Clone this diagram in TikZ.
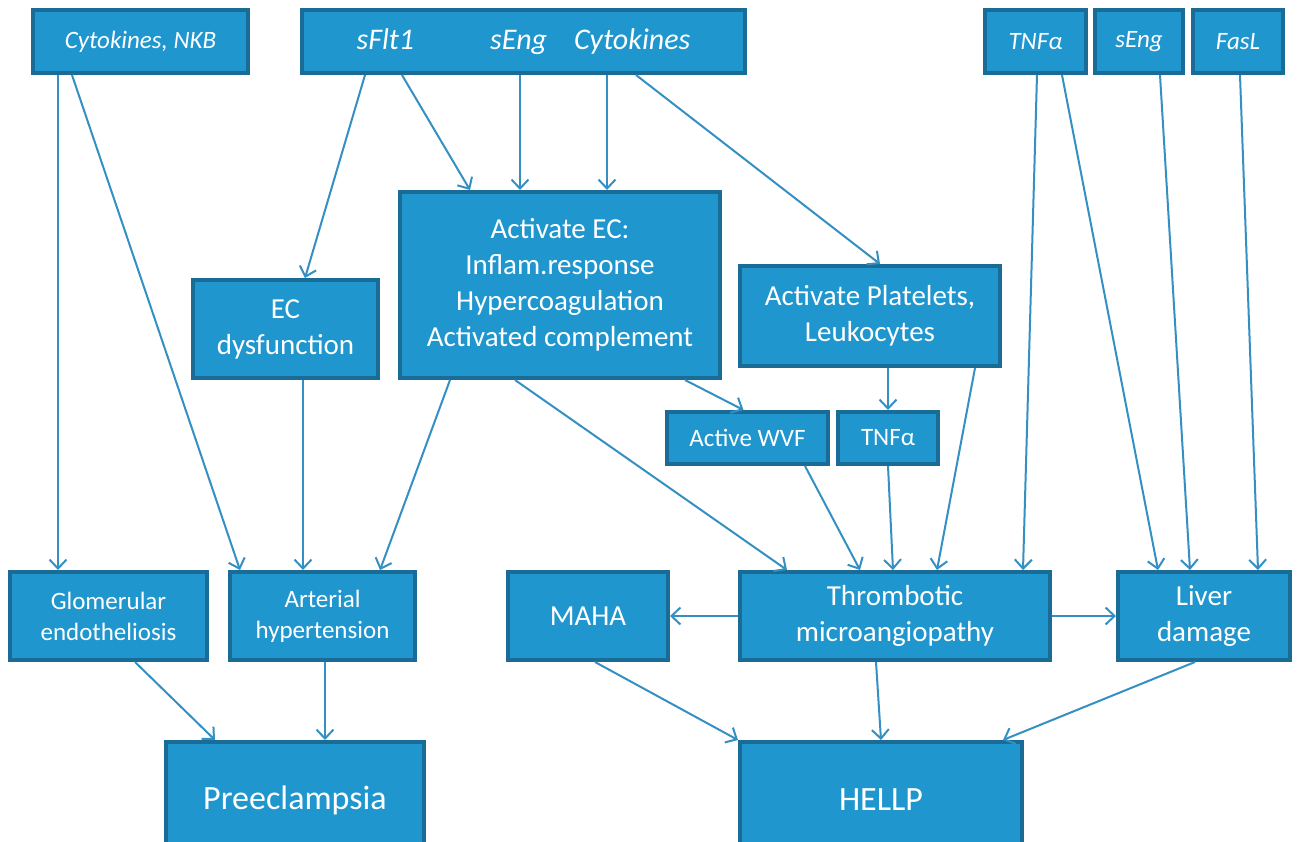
\documentclass[tikz,border=0pt]{standalone}
\usepackage{fontspec}
\setmainfont{Carlito}
\usepackage{tikz}
\usetikzlibrary{arrows.meta,positioning}
\definecolor{boxfill}{RGB}{31,150,206}
\definecolor{boxline}{RGB}{26,108,150}
\definecolor{arrowblue}{RGB}{52,143,195}

\begin{document}
\begin{tikzpicture}[x=1pt, y=-1pt, on grid,
    >={Straight Barb[length=9pt, width=17pt, line width=2pt]},
    box/.style={draw=boxline, fill=boxfill, line width=4pt, text=white,
      align=center, inner sep=0pt},
    bigtext/.style={font=\fontsize{29}{36}\selectfont},
    midtext/.style={font=\fontsize{25}{31}\selectfont},
    toptext/.style={font=\fontsize{25}{30}\selectfont\itshape},
    srctext/.style={font=\fontsize{30}{36}\selectfont\itshape},
    endtext/.style={font=\fontsize{34}{40}\selectfont},
    link/.style={->, draw=arrowblue, line width=2pt}]

  \useasboundingbox (0,0) rectangle (1307,841);

  % Boxes
  \node[box, toptext, minimum width=215pt, minimum height=63pt] (Cyto) at (140.5,41.5) {Cytokines, NKB};
  \node[box, srctext, minimum width=443pt, minimum height=63pt] (Src) at (523.5,41.5)
    {sFlt1\hspace{76pt}sEng\hspace{27pt}Cytokines};
  \node[box, toptext, minimum width=101pt, minimum height=63pt] (TnfTop) at (1035.5,41.5) {TNFα};
  \node[box, toptext, minimum width=88pt, minimum height=63pt] (SengTop) [right=103.5pt of TnfTop] {sEng};
  \node[box, toptext, minimum width=90pt, minimum height=63pt] (FasL) [right=99pt of SengTop] {FasL};

  \node[box, bigtext, minimum width=320pt, minimum height=186pt] (ActEC) at (560,285)
    {Activate EC:\\Inflam.response\\Hypercoagulation\\Activated complement};
  \node[box, bigtext, minimum width=185pt, minimum height=98pt] (ECdys) at (285.5,329) {EC\\dysfunction};
  \node[box, bigtext, minimum width=260pt, minimum height=100pt] (Plat) at (870,316)
    {Activate Platelets,\\Leukocytes};
  \node[box, midtext, minimum width=161pt, minimum height=52pt] (Wvf) at (747.5,438) {Active WVF};
  \node[box, midtext, minimum width=100pt, minimum height=52pt] (TnfMid) [right=140.5pt of Wvf] {TNFα};

  \node[box, midtext, minimum width=197pt, minimum height=88pt] (Glom) at (108.5,616) {Glomerular\\endotheliosis};
  \node[box, midtext, minimum width=185pt, minimum height=88pt] (Arter) at (322.5,616) {Arterial\\hypertension};
  \node[box, bigtext, minimum width=160pt, minimum height=88pt] (Maha) at (588,616) {MAHA};
  \node[box, bigtext, minimum width=310pt, minimum height=88pt] (Tma) at (895,616) {Thrombotic\\microangiopathy};
  \node[box, bigtext, minimum width=172pt, minimum height=88pt] (Liver) at (1204,616) {Liver\\damage};

  \node[box, endtext, minimum width=258pt, minimum height=116pt] (Pre) at (295,800) {Preeclampsia};
  \node[box, endtext, minimum width=282pt, minimum height=116pt] (Hellp) at (881,800) {HELLP};

  % Arrows
  \path[every edge/.style=link]
    ([xshift=-82.5pt]Cyto.south) edge ([xshift=-50.5pt]Glom.north)
    ([xshift=-68.5pt]Cyto.south) edge ([xshift=-82.5pt]Arter.north)

    ([xshift=-158.5pt]Src.south) edge ([xshift=19.5pt]ECdys.north)
    ([xshift=-121.5pt]Src.south) edge ([xshift=-90pt]ActEC.north)
    ([xshift=-3.5pt]Src.south) edge ([xshift=-40pt]ActEC.north)
    ([xshift=83.5pt]Src.south) edge ([xshift=47pt]ActEC.north)
    ([xshift=112.5pt]Src.south) edge ([xshift=10pt]Plat.north)

    ([xshift=17.5pt]ECdys.south) edge ([xshift=-19.5pt]Arter.north)
    ([xshift=-110pt]ActEC.south) edge ([xshift=57.5pt]Arter.north)
    ([xshift=-45pt]ActEC.south) edge ([xshift=-108pt]Tma.north)
    ([xshift=125pt]ActEC.south) edge ([xshift=-4pt]Wvf.north)

    ([xshift=18pt]Plat.south) edge (TnfMid.north)
    ([xshift=105pt]Plat.south) edge ([xshift=42pt]Tma.north)
    ([xshift=57.5pt]Wvf.south) edge ([xshift=-35pt]Tma.north)
    (TnfMid.south) edge ([xshift=-2pt]Tma.north)

    ([xshift=1.5pt]TnfTop.south) edge ([xshift=128pt]Tma.north)
    ([xshift=26.5pt]TnfTop.south) edge ([xshift=-46pt]Liver.north)
    ([xshift=21pt]SengTop.south) edge ([xshift=-14pt]Liver.north)
    ([xshift=2pt]FasL.south) edge ([xshift=54pt]Liver.north)

    (Tma.west) edge (Maha.east)
    (Tma.east) edge (Liver.west)

    ([xshift=26.5pt]Glom.south) edge ([xshift=-80pt]Pre.north)
    ([xshift=2.5pt]Arter.south) edge ([xshift=30pt]Pre.north)
    ([xshift=7pt]Maha.south) edge (Hellp.north west)
    ([xshift=-19pt]Tma.south) edge (Hellp.north)
    ([xshift=-9pt]Liver.south) edge ([xshift=122pt]Hellp.north);

\end{tikzpicture}
\end{document}
